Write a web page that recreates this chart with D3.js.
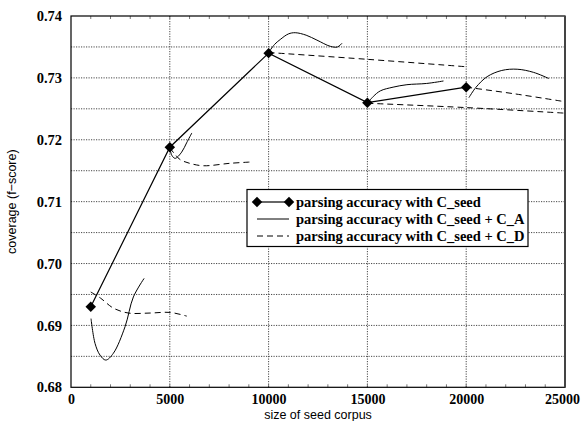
<!DOCTYPE html>
<html>
<head>
<meta charset="utf-8">
<script src="https://cdn.jsdelivr.net/npm/d3@7"></script>
<style>
  html, body { margin: 0; padding: 0; background: #fff; }
  svg { display: block; }
  .serif { font-family: 'Liberation Serif', 'Times New Roman', serif; font-weight: bold; }
  .sans { font-family: 'Liberation Sans', Arial, sans-serif; }
</style>
</head>
<body>
<div id="chart"></div>
<script>
// seed-only accuracy (diamond markers)
const seedX = [1000, 5000, 10000, 15000, 20000];
const seedY = [0.693, 0.7188, 0.734, 0.726, 0.7285];

// C_seed + C_A : one smoothed segment per seed size
const curvesA = [
  [[1013, 0.6911], [1216, 0.6871], [1469, 0.6852], [1760, 0.6844], [2144, 0.6855], [2736, 0.6898], [3157, 0.6946], [3700, 0.6976]],
  [[5000, 0.7188], [5100, 0.7175], [5270, 0.7170], [5600, 0.7180], [5850, 0.7195], [6115, 0.7211]],
  [[10000, 0.7341], [10300, 0.7354], [10588, 0.7362], [11000, 0.7371], [11348, 0.7373], [11900, 0.7369], [12447, 0.7361], [13121, 0.7351], [13490, 0.7350], [13713, 0.7356]],
  [[15000, 0.7259], [15300, 0.7270], [15654, 0.7279], [16300, 0.7285], [17000, 0.7289], [18000, 0.7291], [18850, 0.7295]],
  [[20136, 0.7268], [20500, 0.7285], [21060, 0.7302], [21800, 0.7312], [22580, 0.7314], [23400, 0.7309], [24180, 0.7299]]
];

// C_seed + C_D
const curvesD = [
  [[1000, 0.6954], [1500, 0.6944], [2144, 0.6928], [2904, 0.6920], [4000, 0.6920], [5016, 0.6921], [5860, 0.6915]],
  [[5000, 0.7187], [5300, 0.7175], [5522, 0.7168], [6000, 0.7162], [6702, 0.7158], [8055, 0.7162], [9068, 0.7164]],
  [[10000, 0.7341], [15000, 0.7330], [20000, 0.7318]],
  [[15000, 0.7259], [20000, 0.7252], [25000, 0.7243]],
  [[20000, 0.7285], [22500, 0.7274], [24900, 0.7262]]
];

const xTicks = [0, 5000, 10000, 15000, 20000, 25000];
const yTicks = [0.68, 0.69, 0.70, 0.71, 0.72, 0.73, 0.74];
const yGrid = [0.685, 0.69, 0.695, 0.70, 0.705, 0.71, 0.715, 0.72, 0.725, 0.73, 0.735];
const legendLabels = [
  'parsing accuracy with C_seed',
  'parsing accuracy with C_seed + C_A',
  'parsing accuracy with C_seed + C_D'
];

const W = 582, H = 421;
const M = { top: 16, right: 17, bottom: 33.7, left: 71 };
const innerW = W - M.left - M.right;
const innerH = H - M.top - M.bottom;

const svg = d3.select('#chart').append('svg')
  .attr('width', W).attr('height', H);

const g = svg.append('g').attr('transform', `translate(${M.left},${M.top})`);

const x = d3.scaleLinear().domain([0, 25000]).range([0, innerW]);
const y = d3.scaleLinear().domain([0.68, 0.74]).range([innerH, 0]);

// dotted grid
g.append('g').selectAll('line').data(yGrid).join('line')
  .attr('x1', 0).attr('x2', innerW)
  .attr('y1', d => y(d)).attr('y2', d => y(d))
  .attr('stroke', '#333').attr('stroke-width', 0.9)
  .attr('stroke-dasharray', '1.2,1.3');
g.append('g').selectAll('line').data(xTicks.slice(1, -1)).join('line')
  .attr('y1', 0).attr('y2', innerH)
  .attr('x1', d => x(d)).attr('x2', d => x(d))
  .attr('stroke', '#333').attr('stroke-width', 0.9)
  .attr('stroke-dasharray', '1.2,1.3');

// minor ticks top/bottom every 1000
const minorX = d3.range(1000, 25000, 1000);
g.append('g').selectAll('line').data(minorX).join('line')
  .attr('x1', d => x(d)).attr('x2', d => x(d))
  .attr('y1', innerH).attr('y2', innerH - 3)
  .attr('stroke', '#555').attr('stroke-width', 0.8);
g.append('g').selectAll('line').data(minorX).join('line')
  .attr('x1', d => x(d)).attr('x2', d => x(d))
  .attr('y1', 0).attr('y2', 3)
  .attr('stroke', '#555').attr('stroke-width', 0.8);

// axes
const xAxis = g.append('g')
  .attr('transform', `translate(0,${innerH})`)
  .call(d3.axisBottom(x).tickValues(xTicks).tickSize(0).tickPadding(7).tickFormat(d3.format('d')))
  .attr('font-family', null).attr('font-size', null);
xAxis.select('.domain').remove();
xAxis.selectAll('text')
  .attr('class', 'serif').style('font-size', '14px').attr('fill', '#000')
  .attr('dx', d => d === 25000 ? -3 : 0);

const yAxis = g.append('g')
  .call(d3.axisLeft(y).tickValues(yTicks).tickSize(0).tickPadding(9).tickFormat(d3.format('.2f')))
  .attr('font-family', null).attr('font-size', null);
yAxis.select('.domain').remove();
yAxis.selectAll('text')
  .attr('class', 'serif').style('font-size', '14.5px').attr('fill', '#000');

// frame
g.append('rect')
  .attr('x', 0).attr('y', 0).attr('width', innerW).attr('height', innerH)
  .attr('fill', 'none').attr('stroke', '#000').attr('stroke-width', 1.2);
g.append('line')
  .attr('x1', innerW).attr('x2', innerW).attr('y1', 0).attr('y2', innerH)
  .attr('stroke', '#444').attr('stroke-width', 2);

// C_D dashed
const smooth = d3.line().x(d => x(d[0])).y(d => y(d[1])).curve(d3.curveCatmullRom.alpha(0.5));
g.append('g').selectAll('path').data(curvesD).join('path')
  .attr('d', smooth)
  .attr('fill', 'none').attr('stroke', '#000').attr('stroke-width', 1)
  .attr('stroke-dasharray', '6,4');

// C_A solid
g.append('g').selectAll('path').data(curvesA).join('path')
  .attr('d', smooth)
  .attr('fill', 'none').attr('stroke', '#000').attr('stroke-width', 1);

// seed line + diamonds
const seed = seedX.map((v, i) => [v, seedY[i]]);
g.append('path').datum(seed)
  .attr('d', d3.line().x(d => x(d[0])).y(d => y(d[1])))
  .attr('fill', 'none').attr('stroke', '#000').attr('stroke-width', 1.2);
const diamond = d3.symbol().type(d3.symbolDiamond2).size(70);
g.append('g').selectAll('path').data(seed).join('path')
  .attr('transform', d => `translate(${x(d[0])},${y(d[1])})`)
  .attr('d', diamond).attr('fill', '#000');

// legend
const lg = svg.append('g').attr('transform', 'translate(247,189.5)');
lg.append('rect')
  .attr('width', 281).attr('height', 57)
  .attr('fill', '#fff').attr('stroke', '#000').attr('stroke-width', 1.2);
legendLabels.forEach((lab, i) => {
  const row = lg.append('g').attr('transform', `translate(0,${12.5 + i * 17})`);
  const ln = row.append('line')
    .attr('x1', 10).attr('x2', 42).attr('y1', 0).attr('y2', 0)
    .attr('stroke', '#000').attr('stroke-width', i === 0 ? 1.2 : 1);
  if (i === 2) ln.attr('stroke-dasharray', '6,4');
  if (i === 0) {
    [10, 42].forEach(px => row.append('path')
      .attr('transform', `translate(${px},0)`)
      .attr('d', diamond).attr('fill', '#000'));
  }
  row.append('text')
    .attr('class', 'serif')
    .attr('x', 49).attr('y', 4.5)
    .style('font-size', '14.5px')
    .text(lab);
});

// axis titles
svg.append('text')
  .attr('class', 'sans')
  .attr('transform', `translate(16,${M.top + innerH / 2}) rotate(-90)`)
  .attr('text-anchor', 'middle')
  .style('font-size', '12.5px')
  .text('coverage (f\u2212score)');
svg.append('text')
  .attr('class', 'sans')
  .attr('x', M.left + innerW / 2).attr('y', 419)
  .attr('text-anchor', 'middle')
  .style('font-size', '12.5px')
  .text('size of seed corpus');
</script>
</body>
</html>
